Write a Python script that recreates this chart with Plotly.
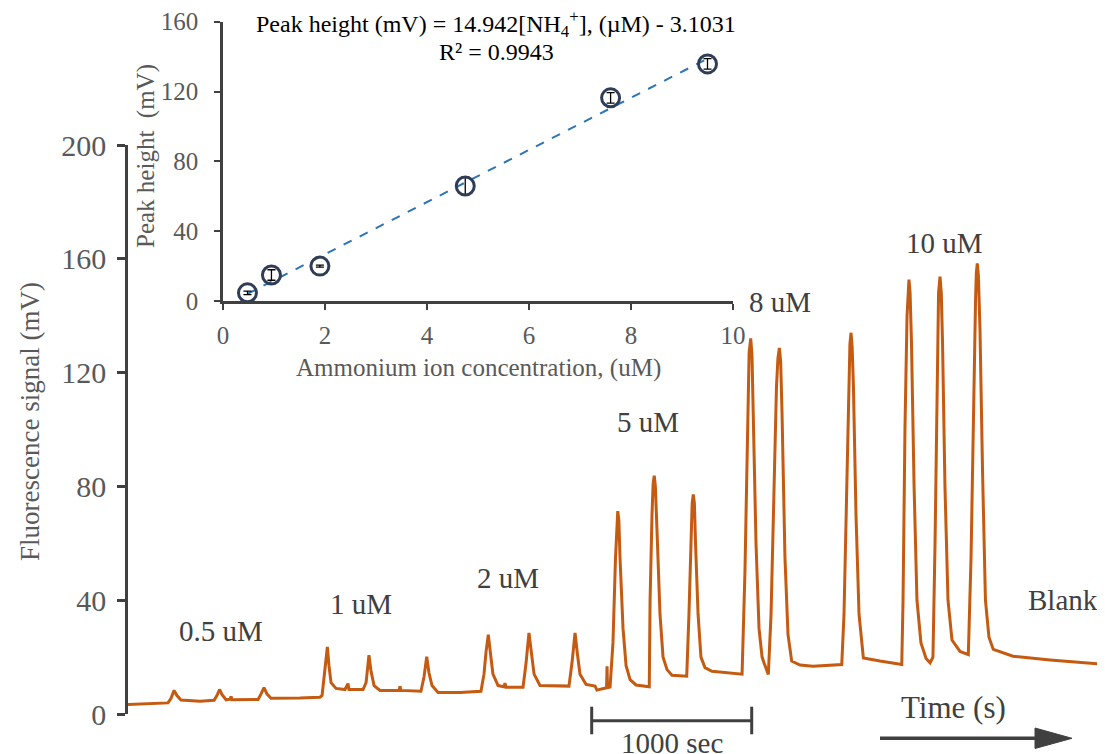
import plotly.graph_objects as go

# ---------------- data ----------------
time_s = [0, 137, 250, 269, 288, 306, 331, 450, 538, 556, 572, 588, 613, 638, 644, 650, 813, 831, 850, 869, 894, 1075, 1200,
          1213, 1231, 1246, 1256, 1269, 1300, 1356, 1375, 1381, 1469,
          1488, 1506, 1519, 1538, 1575, 1694, 1700, 1706, 1831,
          1850, 1867, 1881, 1900, 1938, 2075, 2206,
          2225, 2238, 2252, 2266, 2281, 2313, 2350, 2356, 2363, 2469,
          2488, 2506, 2522, 2538, 2575, 2756,
          2775, 2794, 2809, 2825, 2863, 2919, 2931, 2975, 2991, 2994, 2997, 3013,
          3031, 3047, 3055, 3061, 3068, 3075, 3094, 3113, 3138, 3175, 3258,
          3263, 3275, 3282, 3289, 3296, 3306, 3325, 3344, 3369, 3400, 3492,
          3506, 3519, 3526, 3533, 3540, 3547, 3563, 3581, 3606, 3650, 3838,
          3856, 3872, 3882, 3892, 3900, 3906, 3925, 3944, 3963, 3975, 4002,
          4019, 4038, 4053, 4062, 4071, 4079, 4088, 4106, 4125, 4148, 4200, 4281, 4461,
          4475, 4494, 4506, 4512, 4519, 4526, 4534, 4550, 4569, 4596, 4700, 4836,
          4844, 4856, 4869, 4875, 4881, 4888, 4897, 4913, 4931, 4956, 4988, 5013, 5031,
          5044, 5056, 5066, 5075, 5083, 5091, 5106, 5125, 5150, 5200, 5238, 5252,
          5269, 5284, 5297, 5302, 5308, 5315, 5325, 5341, 5359, 5381, 5408, 5531, 5763, 6075]
signal_mV = [3.3, 3.5, 3.9, 5.5, 8.3, 6.5, 4.9, 4.5, 4.8, 6.5, 8.6, 6.8, 5.0, 5.2, 6.2, 5.0, 5.1, 7.0, 9.3, 7.0, 5.5, 5.6, 5.9,
             6.5, 15.0, 23.6, 17.0, 11.0, 9.0, 8.6, 10.7, 8.6, 8.6,
             11.0, 20.7, 15.0, 10.0, 8.3, 8.3, 9.7, 8.3, 8.0,
             13.0, 20.1, 14.5, 10.0, 7.6, 7.6, 8.0,
             14.0, 22.0, 27.9, 21.0, 14.0, 10.0, 9.6, 10.8, 9.4, 9.4,
             18.0, 28.5, 21.0, 14.0, 10.0, 9.8,
             18.0, 28.5, 21.0, 14.0, 10.4, 9.8, 8.4, 9.0, 9.2, 16.8, 9.3, 9.5,
             25.0, 55.0, 68.0, 71.3, 68.0, 55.0, 30.0, 17.0, 12.1, 10.2, 9.6,
             40.0, 70.0, 81.0, 83.8, 80.0, 65.0, 35.0, 20.0, 15.6, 13.6, 13.3,
             35.0, 62.0, 74.0, 77.2, 74.0, 60.0, 35.0, 20.0, 16.3, 15.0, 14.0,
             50.0, 105.0, 127.0, 132.0, 126.0, 110.0, 60.0, 30.0, 20.0, 18.0, 13.9,
             35.0, 80.0, 115.0, 125.0, 128.7, 124.0, 105.0, 55.0, 28.0, 18.6, 17.2, 16.8, 17.4,
             35.0, 85.0, 120.0, 130.0, 134.0, 129.0, 115.0, 70.0, 35.0, 19.7, 18.6, 17.4,
             40.0, 100.0, 140.0, 149.0, 152.7, 148.0, 130.0, 80.0, 40.0, 25.0, 19.5, 18.0, 20.0,
             60.0, 120.0, 148.0, 153.7, 148.0, 130.0, 80.0, 40.0, 26.0, 22.0, 21.0, 20.9,
             55.0, 110.0, 145.0, 155.0, 158.4, 154.0, 135.0, 85.0, 40.0, 27.0, 22.7, 20.3, 19.0, 17.6]

main_yticks = [0, 40, 80, 120, 160, 200]

# calibration inset
conc_uM = [0.48, 0.95, 1.9, 4.75, 7.6, 9.5]
peak_height_mV = [4.7, 14.9, 20.0, 65.9, 116.4, 135.8]
peak_err_mV = [1.0, 3.0, 0.6, 5.0, 3.0, 3.0]
fit_slope = 14.942
fit_intercept = -3.1031
inset_xticks = [0, 2, 4, 6, 8, 10]
inset_yticks = [0, 40, 80, 120, 160]

# labels on the trace (time s, signal mV)
label_text = ["0.5 uM", "1 uM", "2 uM", "5 uM", "8 uM", "10 uM", "Blank"]
label_t = [581, 1456, 2375, 3250, 4075, 5100, 5844]
label_y = [29.2, 38.7, 47.8, 102.6, 144.8, 165.6, 40.1]

# ---------------- figure ----------------
FONT = "Liberation Serif, Times New Roman, serif"
AX = "#404040"
TXT = "#595959"

fig = go.Figure()

fig.add_trace(go.Scatter(x=time_s, y=signal_mV, mode="lines",
                         line=dict(color="#c55a11", width=3),
                         xaxis="x", yaxis="y", hoverinfo="skip"))

fit_x = [conc_uM[0], conc_uM[-1]]
fit_y = [fit_slope * v + fit_intercept for v in fit_x]
fig.add_trace(go.Scatter(x=fit_x, y=fit_y, mode="lines",
                         line=dict(color="#2e75b6", width=2, dash="dash"),
                         xaxis="x2", yaxis="y2"))
fig.add_trace(go.Scatter(x=conc_uM, y=peak_height_mV, mode="markers",
                         marker=dict(symbol="circle-open", size=18, color="#2f3d57",
                                     line=dict(width=3, color="#2f3d57")),
                         error_y=dict(type="data", array=peak_err_mV, color="black",
                                      thickness=1.3, width=4),
                         xaxis="x2", yaxis="y2"))

main_top = (714 - 145) / 699

# page is offset by the default 8px body margin, so the figure is 8px smaller
fig.update_layout(
    width=1097, height=746,
    margin=dict(l=120, r=5, t=7, b=40, autoexpand=False),
    paper_bgcolor="white", plot_bgcolor="rgba(0,0,0,0)",
    showlegend=False,
    font=dict(family=FONT, color=TXT),
    xaxis=dict(domain=[0, 1], range=[0, 6075], visible=False, anchor="y", automargin=False),
    yaxis=dict(domain=[0, main_top], range=[0, 200], anchor="x", automargin=False,
               showline=True, linecolor=AX, linewidth=2.5,
               ticks="outside", ticklen=8, tickwidth=2.5, tickcolor=AX,
               tickvals=main_yticks, tickfont=dict(size=30, color=TXT, family=FONT),
               showgrid=False, zeroline=False, ticklabelstandoff=5),
    xaxis2=dict(domain=[(223 - 128) / 972, (733 - 128) / 972], range=[0, 10], anchor="y2",
                automargin=False,
                showline=True, linecolor=AX, linewidth=2.5,
                ticks="outside", ticklen=6, tickwidth=2, tickcolor=AX,
                tickvals=inset_xticks, tickfont=dict(size=25, color=TXT, family=FONT),
                showgrid=False, zeroline=False, ticklabelstandoff=4),
    yaxis2=dict(domain=[(714 - 301) / 699, (714 - 21.7) / 699], range=[0, 160], anchor="x2",
                automargin=False,
                showline=True, linecolor=AX, linewidth=2.5,
                ticks="outside", ticklen=6, tickwidth=2, tickcolor=AX,
                tickvals=inset_yticks, tickfont=dict(size=25, color=TXT, family=FONT),
                showgrid=False, zeroline=False, ticklabelstandoff=11),
)

ann = []
for t, x, y in zip(label_text, label_t, label_y):
    ann.append(dict(text=t, x=x, y=y, xref="x", yref="y", showarrow=False,
                    xanchor="center", yanchor="middle",
                    font=dict(size=29, color=AX, family=FONT)))


def px(xp):
    return (xp - 128) / 972


def py(yp):
    return (714 - yp) / 699


def pann(text, x, y, size, color, angle=0):
    return dict(text=text, x=px(x), y=py(y), xref="paper", yref="paper",
                xanchor="center", yanchor="middle", textangle=angle,
                showarrow=False, font=dict(size=size, color=color, family=FONT))


ann += [
    pann("Fluorescence signal (mV)", 30, 422, 27, TXT, -90),
    pann("Peak height\u00a0 (mV)", 146, 156, 25, TXT, -90),
    pann("Ammonium ion concentration, (uM)", 478, 368, 25, TXT),
    pann("Peak height (mV) = 14.942[NH<sub>4</sub><sup>+</sup>], (µM) - 3.1031", 496, 24, 24, "black"),
    pann("R² = 0.9943", 496, 52, 24, "black"),
    pann("1000 sec", 672, 743, 29, AX),
    pann("Time (s)", 953, 707, 31, AX),
]

shapes = [
    # scale bar
    dict(type="line", xref="paper", yref="paper", x0=px(591.7), x1=px(751.7), y0=py(720.7), y1=py(720.7),
         line=dict(color=AX, width=3)),
    dict(type="line", xref="paper", yref="paper", x0=px(591.7), x1=px(591.7), y0=py(706.7), y1=py(734.3),
         line=dict(color=AX, width=3)),
    dict(type="line", xref="paper", yref="paper", x0=px(751.7), x1=px(751.7), y0=py(706.7), y1=py(734.3),
         line=dict(color=AX, width=3)),
    # time arrow
    dict(type="line", xref="paper", yref="paper", x0=px(880), x1=px(1040), y0=py(738.3), y1=py(738.3),
         line=dict(color=AX, width=3.5)),
    dict(type="path", xref="paper", yref="paper",
         path=f"M {px(1035)} {py(728)} L {px(1072)} {py(738.3)} L {px(1035)} {py(748.5)} Z",
         fillcolor=AX, line=dict(color=AX, width=1)),
]

fig.update_layout(annotations=ann, shapes=shapes)

fig.write_html("out.html")
